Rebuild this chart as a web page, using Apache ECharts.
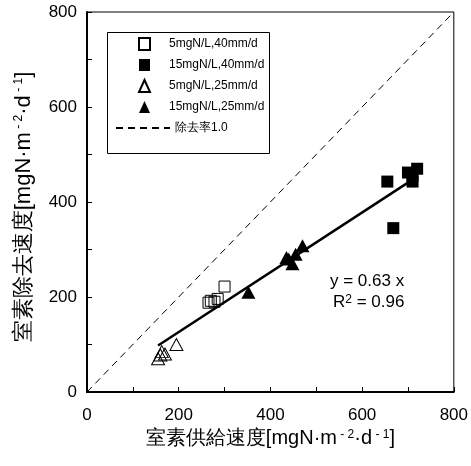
<!DOCTYPE html>
<html>
<head>
<meta charset="utf-8">
<script src="https://cdn.jsdelivr.net/npm/echarts@6/dist/echarts.min.js"></script>
<style>html,body{margin:0;padding:0;background:#fff}#chart{width:471px;height:466px}</style>
</head>
<body>
<div id="chart"></div>
<script>
// data (supply rate x, removal rate y)
const sq5x = [265, 270, 278, 285, 300];
const sq5y = [188, 192, 190, 196, 222];
const sq15x = [655, 668, 700, 710, 720, 710];
const sq15y = [443, 345, 462, 455, 470, 443];
const tri5x = [155, 160, 163, 170, 195];
const tri5y = [70, 78, 85, 80, 100];
const tri15x = [352, 435, 448, 455, 470, 440];
const tri15y = [210, 283, 270, 290, 308, 280];
const fitX = [155, 705];
const fitY = [98, 444];
const oneX = [0, 800];
const oneY = [0, 800];

const names = ['5mgN/L,40mm/d', '15mgN/L,40mm/d', '5mgN/L,25mm/d', '15mgN/L,25mm/d', '除去率1.0'];
const FONT = "'Liberation Sans', Arial, sans-serif";
const pts = (xs, ys) => xs.map((x, i) => [x, ys[i]]);

const c = echarts.init(document.getElementById('chart'), null, {renderer: 'canvas'});
const supRich = {s: {fontSize: 12, verticalAlign: 'top', color: '#000', fontFamily: FONT}};
const axisBase = {
  type: 'value', min: 0, max: 800, interval: 200,
  axisLine: {lineStyle: {color: '#000', width: 2}},
  axisTick: {inside: true, length: 5, lineStyle: {color: '#000'}},
  minorTick: {show: true, splitNumber: 2, length: 5, lineStyle: {color: '#000'}},
  splitLine: {show: false},
  axisLabel: {color: '#000', fontSize: 17, fontFamily: FONT},
  nameLocation: 'middle'
};

c.setOption({
  backgroundColor: '#fff',
  animation: false,
  grid: {left: 87, top: 12, width: 368, height: 380, show: true, borderColor: '#000', borderWidth: 1},
  xAxis: {...axisBase, name: '室素供給速度[mgN·m{s| - 2}·d{s| - 1}]', nameGap: 35,
    nameTextStyle: {color: '#000', fontSize: 20, fontFamily: FONT, rich: supRich},
    axisLabel: {...axisBase.axisLabel, margin: 15}},
  yAxis: {...axisBase, name: '室素除去速度[mgN·m{s| - 2}·d{s| - 1}]', nameGap: 52,
    nameTextStyle: {color: '#000', fontSize: 22, fontFamily: FONT, rich: supRich, padding: [0, 10, 0, 0]},
    axisLabel: {...axisBase.axisLabel, margin: 10}},
  legend: [{
    data: names.slice(0, 4), orient: 'vertical', left: 138, top: 37, padding: 0,
    itemWidth: 11, itemHeight: 12, itemGap: 8,
    textStyle: {color: '#000', fontSize: 12, fontFamily: FONT, padding: [0, 0, 0, 14]}
  }, {
    data: [names[4]], orient: 'vertical', left: 115, top: 122, padding: 0,
    itemWidth: 54, itemHeight: 12,
    textStyle: {color: '#000', fontSize: 12, fontFamily: FONT}
  }],
  graphic: [
    {type: 'rect', left: 107, top: 32, z: 0,
      shape: {width: 162, height: 121}, style: {fill: '#fff', stroke: '#000', lineWidth: 1}},
    {type: 'text', left: 330, top: 273,
      style: {text: 'y = 0.63 x', fontSize: 17, fontFamily: FONT, fill: '#000'}},
    {type: 'text', left: 333, top: 294,
      style: {text: 'R{s|2} = 0.96', fontSize: 17, fontFamily: FONT, fill: '#000',
        rich: {s: {fontSize: 12, verticalAlign: 'top', fill: '#000', fontFamily: FONT}}}}
  ],
  series: [
    {name: names[4], type: 'line', data: pts(oneX, oneY), symbol: 'none',
      lineStyle: {color: '#000', width: 1, type: [7, 5]}, itemStyle: {color: 'rgba(0,0,0,0)'}},
    {name: 'fit', type: 'line', data: pts(fitX, fitY), symbol: 'none',
      lineStyle: {color: '#000', width: 2.5}},
    {name: names[0], type: 'scatter', data: pts(sq5x, sq5y), symbol: 'rect', symbolSize: 11,
      itemStyle: {color: 'rgba(255,255,255,0)', borderColor: '#000', borderWidth: 1, opacity: 1}},
    {name: names[1], type: 'scatter', data: pts(sq15x, sq15y), symbol: 'rect', symbolSize: 12,
      itemStyle: {color: '#000', opacity: 1}},
    {name: names[2], type: 'scatter', data: pts(tri5x, tri5y), symbol: 'triangle', symbolSize: [13, 12],
      itemStyle: {color: 'rgba(255,255,255,0)', borderColor: '#000', borderWidth: 1, opacity: 1}},
    {name: names[3], type: 'scatter', data: pts(tri15x, tri15y), symbol: 'triangle', symbolSize: [14, 13],
      itemStyle: {color: '#000', opacity: 1}}
  ]
});
</script>
</body>
</html>
